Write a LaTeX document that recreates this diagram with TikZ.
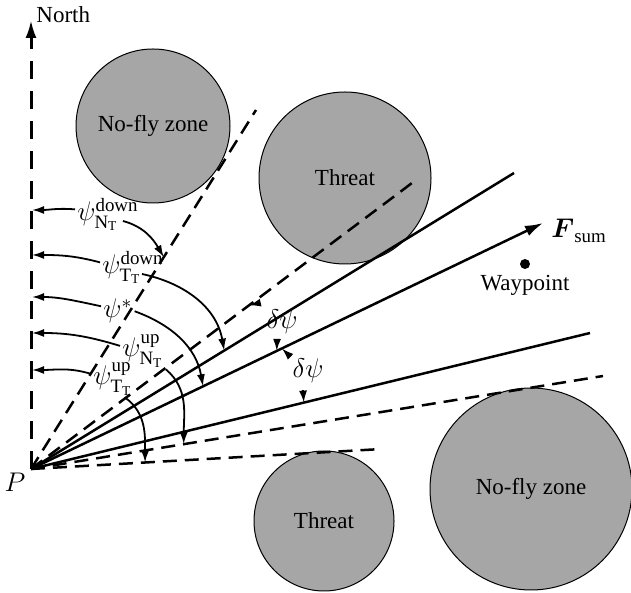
\RequirePackage{fix-cm}
\documentclass[tikz,border=0pt]{standalone}
\usepackage{amsmath}
\usepackage{fontspec}
\setmainfont{Liberation Serif}
\usetikzlibrary{arrows.meta,calc}
\definecolor{zonegray}{RGB}{166,166,166}

\begin{document}
\begin{tikzpicture}[x=0.5pt,y=0.5pt,
  every node/.style={font=\fontsize{11.5}{13.8}\selectfont},
  mathfont/.style={font=\fontsize{13.5}{16}\selectfont},
  zone/.style={circle,draw,line width=0.5pt,fill=zonegray,inner sep=0pt,outer sep=0pt},
  ray/.style={line width=1.25pt},
  bound/.style={line width=1.25pt,dash pattern=on 7pt off 4pt},
  sweep/.style={line width=0.9pt,-{Latex[length=6pt,width=4pt]}},
  bigtip/.style={-{Latex[length=9pt,width=5.5pt]}},
  lbl/.style={mathfont,anchor=base west,inner sep=1pt}]
\useasboundingbox (0,0) rectangle (631,593);

% zones
\node[zone,minimum size=77pt]  (nfzU) at (153,467) {No-fly zone};
\node[zone,minimum size=86pt]  (thrU) at (345,415) {Threat};
\node[zone,minimum size=70pt]  (thrL) at (324,72)  {Threat};
\node[zone,minimum size=101pt] (nfzL) at (531,104) {No-fly zone};

% rays from P
\coordinate (P) at (31,124);
\coordinate (north) at (31,573);
\coordinate (eNfzU) at (256,483);
\coordinate (ePlus) at (412,410);
\coordinate (eThrU) at (514,420);
\coordinate (eSum) at (543,370);
\coordinate (eMinus) at (590,260);
\coordinate (eNfzL) at (603,217);
\coordinate (eThrL) at (382,144);

\draw[bound,line width=1.5pt,dash pattern=on 9pt off 6pt,bigtip] (P) -- (north);
\draw[bound] (P) -- (eNfzU);
\draw[bound] (P) -- (ePlus);
\draw[ray] (P) -- (eThrU);
\draw[ray,bigtip] (P) -- (eSum);
\draw[ray] (P) -- (eMinus);
\draw[bound] (P) -- (eNfzL);
\draw[bound] (P) -- (eThrL);

\node[mathfont] (Plbl) at (15,111) {$P$};
\node[anchor=west,inner sep=0pt] (northlbl) at (36,578) {North};
\node[mathfont,anchor=base west,inner sep=0pt] (fsum) at (551,355) {$\boldsymbol{F}_{\text{sum}}$};

% waypoint
\node[circle,fill,inner sep=0pt,minimum size=5pt] (wp) at (525,329) {};
\node (wplbl) at (525,308) {Waypoint};

% angle labels
\node[lbl] (psiDN) at (75,372)  {$\psi^{\text{down}}_{\text{N}_\text{T}}$};
\node[lbl] (psiDT) at (100,319) {$\psi^{\text{down}}_{\text{T}_\text{T}}$};
\node[lbl] (psiS)  at (101,275) {$\psi^{*}$};
\node[lbl] (psiUN) at (120,236) {$\psi^{\text{up}}_{\text{N}_\text{T}}$};
\node[lbl] (psiUT) at (91,208)  {$\psi^{\text{up}}_{\text{T}_\text{T}}$};

\coordinate (ax1) at (32,383);
\coordinate (ax2) at (32,338);
\coordinate (ax3) at (32,296);
\coordinate (ax4) at (32,260);
\coordinate (ax5) at (32,223);

\coordinate (tDN) at ($(P)!0.59!(eNfzU)$);
\coordinate (tDT) at ($(P)!0.40!(eThrU)$);
\coordinate (tS)  at ($(P)!0.336!(eSum)$);
\coordinate (tUN) at ($(P)!0.267!(eNfzL)$);
\coordinate (tUT) at ($(P)!0.325!(eThrL)$);

\draw[sweep] ([yshift=2.5pt]psiDN.west) to[out=175,in=0] (ax1);
\draw[sweep] ([xshift=-9pt]psiDN.base east) to[out=-15,in=120] (tDN);
\draw[sweep] ([yshift=2.5pt]psiDT.west) to[out=165,in=0] (ax2);
\draw[sweep] ([xshift=-12pt]psiDT.base east) to[out=-12,in=100] (tDT);
\draw[sweep] ([yshift=2.5pt]psiS.west) to[out=168,in=0] (ax3);
\draw[sweep] (psiS.east) to[out=-20,in=100] (tS);
\draw[sweep] ([yshift=2.5pt]psiUN.west) to[out=163,in=0] (ax4);
\draw[sweep] (psiUN.south east) to[out=-40,in=90] (tUN);
\draw[sweep] ([yshift=2.5pt]psiUT.west) to[out=163,in=0] (ax5);
\draw[sweep] ([xshift=-5pt]psiUT.south east) to[out=-35,in=90] (tUT);

% delta psi
\node[mathfont] (dpA) at (282,271) {$\delta\psi$};
\node[mathfont] (dpB) at (308,222) {$\delta\psi$};
\coordinate (dA1) at ($(P)!0.572!(ePlus)$);
\coordinate (dA2) at ($(P)!0.48!(eSum)$);
\coordinate (dB1) at ($(P)!0.49!(eSum)$);
\coordinate (dB2) at ($(P)!0.488!(eMinus)$);
\draw[sweep] (dpA.north west) -- (dA1);
\draw[sweep] ([xshift=-2.5pt]dpA.south) -- (dA2);
\draw[sweep] (dpB.north west) -- (dB1);
\draw[sweep] ([xshift=-2.5pt]dpB.south) -- (dB2);
\end{tikzpicture}
\end{document}
